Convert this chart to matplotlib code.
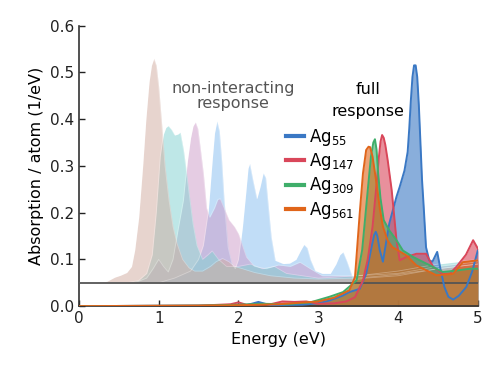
import numpy as np
import matplotlib
matplotlib.use('Agg')
import matplotlib.pyplot as plt

# non-interacting spectra (already offset by the 0.05 baseline)
ni_e_55 = [0, 1.0, 1.2, 1.4, 1.5, 1.56, 1.62, 1.67, 1.7, 1.73, 1.76, 1.79, 1.82, 1.87, 1.92, 1.96, 2.0,
           2.05, 2.09, 2.12, 2.14, 2.18, 2.23, 2.27, 2.31, 2.34, 2.37, 2.41, 2.46, 2.56, 2.64, 2.72,
           2.78, 2.82, 2.86, 2.9, 2.96, 3.05, 3.15, 3.22, 3.27, 3.31, 3.36, 3.44, 3.6, 4.0, 4.5, 5.0]
ni_y_55 = [0.05, 0.05, 0.06, 0.075, 0.1, 0.13, 0.2, 0.31, 0.37, 0.396, 0.375, 0.31, 0.226, 0.126, 0.09, 0.08, 0.1,
           0.17, 0.24, 0.295, 0.305, 0.27, 0.23, 0.255, 0.285, 0.275, 0.22, 0.148, 0.098, 0.091, 0.092, 0.1,
           0.12, 0.132, 0.125, 0.1, 0.076, 0.07, 0.07, 0.09, 0.11, 0.116, 0.095, 0.056, 0.06, 0.065, 0.08, 0.09]

ni_e_147 = [0, 0.7, 0.85, 0.93, 1.0, 1.06, 1.12, 1.18, 1.24, 1.31, 1.36, 1.4, 1.43, 1.46, 1.49, 1.52,
            1.56, 1.6, 1.64, 1.7, 1.74, 1.77, 1.82, 1.88, 1.95, 2.0, 2.05, 2.1, 2.2, 2.35, 2.5, 2.65,
            2.77, 2.9, 3.05, 3.5, 4.0, 4.5, 5.0]
ni_y_147 = [0.05, 0.05, 0.06, 0.08, 0.1, 0.085, 0.073, 0.1, 0.16, 0.226, 0.31, 0.36, 0.385, 0.394, 0.38, 0.34,
            0.284, 0.21, 0.19, 0.21, 0.228, 0.23, 0.21, 0.185, 0.17, 0.155, 0.13, 0.105, 0.085, 0.08, 0.088, 0.085,
            0.094, 0.08, 0.065, 0.065, 0.07, 0.085, 0.095]

ni_e_309 = [0, 0.6, 0.75, 0.85, 0.92, 0.97, 1.02, 1.06, 1.09, 1.12, 1.16, 1.2, 1.24, 1.27, 1.31, 1.35,
            1.39, 1.43, 1.48, 1.55, 1.62, 1.67, 1.75, 1.85, 2.0, 2.15, 2.3, 2.45, 2.6, 2.8, 3.0, 3.5,
            4.0, 4.5, 5.0]
ni_y_309 = [0.05, 0.05, 0.055, 0.07, 0.11, 0.2, 0.32, 0.368, 0.382, 0.386, 0.378, 0.366, 0.368, 0.372, 0.335, 0.284,
            0.23, 0.177, 0.13, 0.1, 0.11, 0.118, 0.1, 0.085, 0.085, 0.09, 0.08, 0.085, 0.07, 0.065, 0.06, 0.065,
            0.075, 0.09, 0.1]

ni_e_561 = [0, 0.2, 0.35, 0.45, 0.52, 0.6, 0.66, 0.7, 0.75, 0.8, 0.84, 0.88, 0.91, 0.94, 0.97, 1.0,
            1.04, 1.08, 1.13, 1.18, 1.23, 1.3, 1.38, 1.45, 1.55, 1.65, 1.72, 1.8, 1.88, 1.95, 2.05,
            2.2, 2.4, 2.7, 3.0, 3.5, 4.0, 4.5, 5.0]
ni_y_561 = [0.05, 0.05, 0.053, 0.062, 0.066, 0.072, 0.085, 0.12, 0.19, 0.3, 0.4, 0.48, 0.515, 0.53, 0.515, 0.47,
            0.385, 0.3, 0.226, 0.17, 0.134, 0.1, 0.082, 0.075, 0.075, 0.085, 0.095, 0.102, 0.095, 0.085, 0.08,
            0.072, 0.065, 0.06, 0.058, 0.06, 0.068, 0.08, 0.09]

# full response spectra
fr_e_55 = [0, 1.5, 2.1, 2.25, 2.4, 2.8, 3.0, 3.14, 3.3, 3.39, 3.52, 3.6, 3.66, 3.7, 3.72, 3.74, 3.77,
           3.81, 3.89, 3.98, 4.02, 4.08, 4.12, 4.14, 4.16, 4.18, 4.2, 4.22, 4.24, 4.26, 4.28, 4.3,
           4.32, 4.35, 4.39, 4.43, 4.49, 4.53, 4.58, 4.63, 4.69, 4.76, 4.855, 4.93, 5.0]
fr_y_55 = [0, 0.001, 0.002, 0.009, 0.002, 0.003, 0.006, 0.012, 0.022, 0.03, 0.037, 0.069, 0.12, 0.152, 0.159, 0.15, 0.12,
           0.095, 0.177, 0.234, 0.255, 0.29, 0.33, 0.38, 0.44, 0.49, 0.515, 0.515, 0.49, 0.43, 0.35, 0.27,
           0.215, 0.126, 0.098, 0.095, 0.116, 0.08, 0.041, 0.02, 0.014, 0.022, 0.041, 0.075, 0.12]

fr_e_147 = [0, 1.5, 1.9, 2.0, 2.1, 2.4, 2.55, 2.7, 2.85, 3.0, 3.2, 3.35, 3.46, 3.56, 3.62, 3.68,
            3.73, 3.76, 3.78, 3.8, 3.82, 3.84, 3.87, 3.92, 3.98, 4.02, 4.1, 4.23, 4.35, 4.44, 4.56,
            4.65, 4.73, 4.85, 4.94, 5.0]
fr_y_147 = [0, 0.001, 0.004, 0.008, 0.003, 0.004, 0.01, 0.009, 0.01, 0.005, 0.006, 0.01, 0.019, 0.055, 0.1, 0.17,
            0.26, 0.32, 0.352, 0.366, 0.36, 0.345, 0.312, 0.248, 0.141, 0.098, 0.105, 0.112, 0.112, 0.084, 0.069,
            0.07, 0.084, 0.11, 0.141, 0.123]

fr_e_309 = [0, 1.5, 2.0, 2.3, 2.6, 2.9, 3.14, 3.31, 3.48, 3.55, 3.62, 3.66, 3.69, 3.71, 3.73, 3.75,
            3.78, 3.82, 3.89, 3.98, 4.06, 4.19, 4.4, 4.56, 4.73, 4.9, 5.0]
fr_y_309 = [0, 0.001, 0.003, 0.005, 0.004, 0.008, 0.02, 0.03, 0.055, 0.12, 0.248, 0.32, 0.35, 0.357, 0.335, 0.284,
            0.23, 0.184, 0.162, 0.141, 0.119, 0.105, 0.087, 0.073, 0.076, 0.08, 0.08]

fr_e_561 = [0, 1.5, 2.0, 2.5, 3.0, 3.2, 3.39, 3.46, 3.52, 3.56, 3.6, 3.63, 3.65, 3.68, 3.73, 3.77,
            3.81, 3.87, 3.93, 4.1, 4.23, 4.48, 4.69, 4.81, 5.0]
fr_y_561 = [0, 0.001, 0.002, 0.004, 0.01, 0.018, 0.034, 0.062, 0.2, 0.284, 0.334, 0.341, 0.34, 0.32, 0.262, 0.21,
            0.17, 0.14, 0.126, 0.109, 0.087, 0.066, 0.069, 0.094, 0.098]

labels = ['Ag$_{55}$', 'Ag$_{147}$', 'Ag$_{309}$', 'Ag$_{561}$']
ni_colors = ['#85bdf1', '#cc9bc8', '#7fd1d1', '#d1ab9f']
fr_colors = ['#3a78c4', '#d9475a', '#3fae6a', '#e0651a']

ni_data = [(ni_e_55, ni_y_55), (ni_e_147, ni_y_147), (ni_e_309, ni_y_309), (ni_e_561, ni_y_561)]
fr_data = [(fr_e_55, fr_y_55), (fr_e_147, fr_y_147), (fr_e_309, fr_y_309), (fr_e_561, fr_y_561)]

fig = plt.figure(figsize=(5.02, 3.77), dpi=100)
ax = fig.add_axes([0.157, 0.188, 0.795, 0.744])

# non-interacting fills underneath, full response on top
for (e, y), c in zip(ni_data, ni_colors):
    ax.fill_between(e, 0.05, y, color=c, alpha=0.5, lw=0, zorder=1)
for (e, y), c in zip(fr_data, fr_colors):
    ax.fill_between(e, 0, y, color=c, alpha=0.6, lw=0, zorder=2)
for e, y in ni_data:
    ax.plot(e, y, color='white', alpha=0.3, lw=0.6, zorder=3)
for (e, y), c, lab in zip(fr_data, fr_colors, labels):
    ax.plot(e, y, color=c, lw=1.4, label=lab, zorder=5)

ax.axhline(0.05, color='#555555', lw=1.3, zorder=4)

ax.text(1.93, 0.449, 'non-interacting\nresponse', color='#555555', fontsize=11.5,
        ha='center', va='center', linespacing=1.0)
ax.text(3.62, 0.44, 'full\nresponse', color='black', fontsize=11.5,
        ha='center', va='center', linespacing=1.6)

ax.set_xlim(0, 5)
ax.set_ylim(0, 0.6)
ax.set_xticks([0, 1, 2, 3, 4, 5])
ax.set_yticks([0.0, 0.1, 0.2, 0.3, 0.4, 0.5, 0.6])
ax.set_yticklabels(['0.0', '0.1', '0.2', '0.3', '0.4', '0.5', '0.6'])
ax.set_xlabel('Energy (eV)', fontsize=11.5)
ax.set_ylabel('Absorption / atom (1/eV)', fontsize=11.5)
ax.tick_params(direction='in', labelsize=11, length=4, width=1, colors='#222222')
for s in ['top', 'right']:
    ax.spines[s].set_visible(False)
for s in ['left', 'bottom']:
    ax.spines[s].set_color('#333333')
    ax.spines[s].set_linewidth(1.2)

leg = ax.legend(loc='upper left', bbox_to_anchor=(0.502, 0.663), frameon=False, fontsize=12,
                handlelength=1.1, handletextpad=0.3, labelspacing=0.2, borderaxespad=0)
for line in leg.get_lines():
    line.set_linewidth(3)

fig.savefig('out.png', dpi=100)
